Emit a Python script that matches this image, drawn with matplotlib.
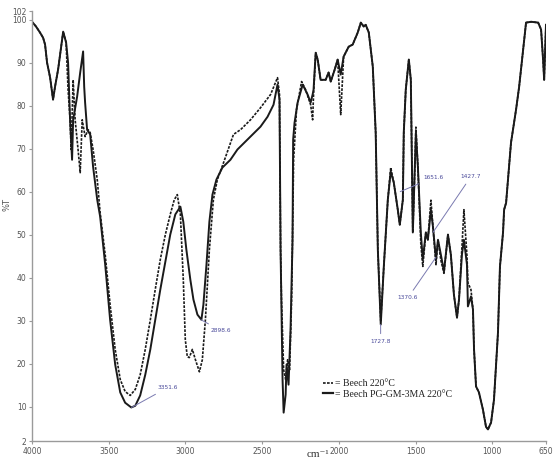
import matplotlib
matplotlib.use("Agg")
import matplotlib.pyplot as plt
from matplotlib.lines import Line2D

# Beech PG-GM-3MA 220°C (solid)
wn_solid = [4000, 3974, 3948, 3928, 3915, 3902, 3882, 3863, 3850, 3830, 3804, 3797, 3778, 3765,
            3752, 3739, 3732, 3706, 3686, 3667, 3660, 3654, 3641, 3621, 3602, 3575, 3556, 3523,
            3491, 3458, 3425, 3393, 3353, 3327, 3295, 3262, 3229, 3197, 3164, 3131, 3099, 3066,
            3033, 3014, 2994, 2968, 2948, 2922, 2896, 2883, 2863, 2844, 2824, 2798, 2759, 2707,
            2661, 2576, 2511, 2465, 2426, 2400, 2387, 2380, 2367, 2360, 2347, 2341, 2328, 2315,
            2302, 2298, 2289, 2269, 2236, 2204, 2184, 2171, 2165, 2151, 2138, 2119, 2086, 2067,
            2053, 2027, 2008, 1988, 1969, 1936, 1910, 1877, 1857, 1838, 1825, 1805, 1779, 1760,
            1746, 1727, 1707, 1681, 1662, 1642, 1616, 1603, 1583, 1577, 1564, 1544, 1531, 1518,
            1505, 1498, 1485, 1466, 1453, 1433, 1420, 1400, 1387, 1367, 1354, 1335, 1315, 1289,
            1270, 1250, 1230, 1217, 1198, 1185, 1165, 1159, 1139, 1126, 1119, 1106, 1087, 1061,
            1041, 1028, 1008, 989, 976, 963, 950, 930, 923, 910, 878, 845, 825, 799, 780, 747,
            701, 682, 669, 662, 650]
t_solid = [99.5, 98.4, 97.0, 95.8, 94.2, 90.0, 86.5, 81.4, 84.4, 88.4, 95.3, 97.2, 94.7, 90.0,
           76.7, 67.4, 76.7, 82.1, 87.7, 92.6, 84.4, 80.7, 74.4, 73.3, 65.8, 58.1, 54.2, 43.0,
           30.2, 19.8, 13.3, 10.9, 9.8, 10.2, 12.6, 17.4, 23.3, 30.2, 37.2, 43.7, 50.0, 54.7,
           56.5, 53.0, 46.5, 39.5, 34.9, 31.4, 30.2, 33.7, 43.0, 53.0, 59.3, 62.8, 65.6, 67.4,
           69.8, 72.8, 75.1, 77.4, 80.2, 84.9, 81.4, 46.5, 16.3, 8.6, 12.8, 19.8, 15.1, 27.9,
           48.8, 72.1, 76.0, 80.7, 84.9, 82.6, 80.7, 82.6, 83.7, 92.3, 90.7, 86.0, 86.0, 87.7,
           85.6, 88.4, 90.7, 87.2, 91.4, 93.7, 94.2, 97.0, 99.3, 98.4, 98.8, 97.0, 89.1, 73.7,
           46.5, 29.1, 42.6, 58.1, 64.7, 62.1, 55.8, 52.3, 58.1, 73.7, 83.7, 90.7, 86.0, 50.5,
           65.1, 73.7, 65.8, 50.5, 44.2, 50.5, 48.8, 55.8, 51.9, 44.2, 48.8, 45.3, 41.4, 50.0,
           45.3, 36.0, 30.7, 34.9, 45.3, 48.8, 43.0, 33.3, 35.6, 32.6, 23.3, 14.7, 13.3, 9.3,
           5.3, 4.7, 6.3, 11.6, 19.3, 27.2, 42.6, 50.5, 55.8, 57.4, 71.4, 79.1, 84.4, 93.0, 99.3, 99.5,
           99.3, 97.7, 90.7, 86.0, 98.8]

# Beech 220°C (dashed)
wn_dash = [4000, 3974, 3948, 3928, 3915, 3902, 3882, 3863, 3850, 3830, 3804, 3797, 3778, 3765,
           3752, 3745, 3732, 3719, 3700, 3686, 3673, 3654, 3634, 3621, 3602, 3575, 3556, 3523,
           3491, 3458, 3425, 3393, 3360, 3327, 3295, 3262, 3229, 3197, 3164, 3131, 3099, 3073,
           3053, 3033, 3014, 3001, 2988, 2975, 2955, 2935, 2909, 2890, 2870, 2844, 2818, 2792,
           2752, 2687, 2641, 2576, 2511, 2445, 2400, 2387, 2380, 2374, 2360, 2347, 2334, 2321,
           2308, 2295, 2276, 2243, 2217, 2184, 2171, 2165, 2151, 2138, 2119, 2086, 2067, 2053,
           2027, 2008, 1988, 1969, 1936, 1910, 1877, 1857, 1838, 1825, 1805, 1779, 1760, 1746,
           1727, 1707, 1681, 1662, 1642, 1616, 1603, 1583, 1577, 1564, 1544, 1531, 1518, 1505,
           1498, 1485, 1466, 1453, 1433, 1420, 1400, 1387, 1367, 1354, 1335, 1315, 1289, 1270,
           1250, 1230, 1217, 1198, 1185, 1165, 1159, 1139, 1126, 1119, 1106, 1087, 1061, 1041,
           1028, 1008, 989, 976, 963, 950, 930, 923, 910, 878, 845, 825, 799, 780, 747, 701,
           682, 669, 662, 650]
t_dash = [99.5, 98.4, 97.0, 95.8, 94.2, 90.0, 86.5, 81.4, 84.4, 88.4, 95.3, 97.2, 94.7, 83.7,
          76.7, 69.8, 86.0, 76.7, 69.8, 64.4, 76.7, 72.8, 74.4, 73.7, 69.8, 62.8, 55.1, 45.3,
          33.7, 23.3, 16.3, 13.5, 12.6, 14.0, 17.4, 23.3, 30.2, 37.2, 44.2, 50.0, 54.7, 58.1,
          59.3, 54.7, 39.5, 25.6, 21.6, 21.4, 23.3, 20.9, 18.1, 20.9, 30.2, 46.5, 58.1, 62.8,
          66.7, 73.3, 74.4, 76.7, 79.5, 82.6, 86.5, 82.6, 46.5, 34.9, 18.6, 16.3, 20.9, 18.6,
          34.9, 67.4, 79.1, 85.6, 83.7, 80.2, 76.7, 82.6, 92.3, 90.7, 86.0, 86.0, 87.7, 85.6,
          88.4, 90.7, 77.9, 91.4, 93.7, 94.2, 97.0, 99.3, 98.4, 98.8, 97.0, 89.1, 73.7, 46.5,
          30.0, 42.6, 58.1, 65.6, 62.1, 55.8, 52.3, 58.1, 73.7, 83.7, 90.7, 86.0, 50.5, 65.1,
          75.0, 65.8, 48.0, 42.6, 50.5, 48.8, 58.0, 51.9, 43.0, 48.8, 44.0, 41.0, 50.0, 45.3,
          36.0, 30.7, 34.9, 47.0, 55.8, 45.0, 38.8, 37.2, 32.6, 23.3, 14.7, 13.3, 9.3, 5.3,
          4.7, 6.3, 11.6, 19.3, 27.2, 42.6, 50.5, 55.8, 57.4, 71.4, 79.1, 84.4, 93.0, 99.3, 99.5, 99.3,
          97.7, 90.7, 86.0, 98.8]

# Peak annotations: label, point (wn, %T), text position (wn, %T)
peak_labels = ["3351.6", "2898.6", "1727.8", "1651.6", "1427.7", "1370.6"]
peak_pts = [(3351.6, 9.8), (2898.6, 30.2), (1727.8, 29.1), (1600, 60.0), (1387, 50.5), (1368, 44.7)]
peak_txt = [(3117, 14.4), (2772, 27.7), (1727.8, 25.1), (1381, 63.3), (1139, 63.5), (1550, 35.3)]

xticks = [4000, 3500, 3000, 2500, 2000, 1500, 1000, 650]
yticks = [2, 10, 20, 30, 40, 50, 60, 70, 80, 90, 100, 102]

fig = plt.figure(figsize=(5.56, 4.65), dpi=100)
ax = fig.add_axes([0.0576, 0.0516, 0.9244, 0.9247])

line_col = "#1a1a1a"
ax.plot(wn_dash, t_dash, color=line_col, lw=1.2, ls=(0, (1.6, 0.8)))
ax.plot(wn_solid, t_solid, color=line_col, lw=1.4)

ax.set_xlim(4000, 650)
ax.set_ylim(2, 102)
ax.set_xticks(xticks)
ax.set_xticklabels([str(v) for v in xticks])
ax.set_yticks(yticks)
ax.set_yticklabels([str(v) for v in yticks])

for s in ["top", "right"]:
    ax.spines[s].set_visible(False)
for s in ["left", "bottom"]:
    ax.spines[s].set_color("#9a9a9a")
    ax.spines[s].set_linewidth(1.0)
ax.tick_params(axis="both", colors="#9a9a9a", labelcolor="#555555", labelsize=5.5,
               length=2.5, width=0.8, pad=1.5)

lab_col = "#4a4a9a"
for lab, (px, py), (tx, ty) in zip(peak_labels, peak_pts, peak_txt):
    ax.annotate(lab, xy=(px, py), xytext=(tx, ty), fontsize=4.2, color=lab_col,
                ha="center", va="center",
                arrowprops=dict(arrowstyle="-", color="#7a7ab0", lw=0.7, shrinkA=2, shrinkB=0))

ax.set_ylabel("%T", fontsize=6, color="#555555", labelpad=2)
ax.yaxis.set_label_coords(-0.04, 0.55)
ax.set_xlabel("cm\u207b\u00b9", fontsize=8, color="#333333",
              family=["Liberation Serif", "DejaVu Serif"])
ax.xaxis.set_label_coords(0.556, -0.022)

handles = [Line2D([], [], color=line_col, lw=1.2, ls=(0, (1.6, 0.8))),
           Line2D([], [], color=line_col, lw=1.6)]
leg = ax.legend(handles, ["= Beech 220\u00b0C", "= Beech PG-GM-3MA 220\u00b0C"],
                loc="lower left", bbox_to_anchor=(0.567, 0.098), frameon=False,
                handlelength=1.0, handletextpad=0.15, labelspacing=0.15,
                prop={"family": "Liberation Serif", "size": 7}, borderaxespad=0, borderpad=0)
for t in leg.get_texts():
    t.set_color("#222222")

fig.savefig("out.png", dpi=100)
